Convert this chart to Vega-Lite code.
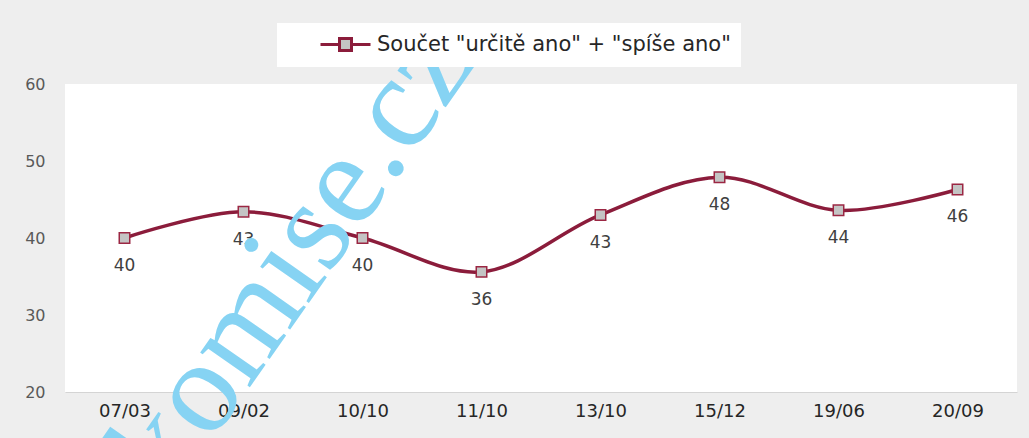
{
  "$schema": "https://vega.github.io/schema/vega-lite/v6.json",
  "width": 952,
  "height": 308,
  "autosize": {"type": "none"},
  "padding": {"left": 65, "top": 84, "right": 12, "bottom": 46},
  "background": "#eeeeee",
  "config": {"view": {"fill": "white", "stroke": null}},
  "data": {
    "values": [
      {"date": "07/03", "value": 40.0, "series": "Součet \"určitě ano\" + \"spíše ano\""},
      {"date": "09/02", "value": 43.4, "series": "Součet \"určitě ano\" + \"spíše ano\""},
      {"date": "10/10", "value": 40.0, "series": "Součet \"určitě ano\" + \"spíše ano\""},
      {"date": "11/10", "value": 35.6, "series": "Součet \"určitě ano\" + \"spíše ano\""},
      {"date": "13/10", "value": 43.0, "series": "Součet \"určitě ano\" + \"spíše ano\""},
      {"date": "15/12", "value": 47.9, "series": "Součet \"určitě ano\" + \"spíše ano\""},
      {"date": "19/06", "value": 43.6, "series": "Součet \"určitě ano\" + \"spíše ano\""},
      {"date": "20/09", "value": 46.3, "series": "Součet \"určitě ano\" + \"spíše ano\""}
    ]
  },
  "encoding": {
    "x": {
      "field": "date",
      "type": "ordinal",
      "sort": null,
      "scale": {"type": "point", "padding": 0.5},
      "axis": {
        "title": null,
        "labelAngle": 0,
        "ticks": false,
        "grid": false,
        "domainColor": "#d4d4d4",
        "domainWidth": 1,
        "labelPadding": 10,
        "labelFont": "DejaVu Sans",
        "labelFontSize": 18,
        "labelColor": "#262626"
      }
    },
    "y": {
      "field": "value",
      "type": "quantitative",
      "scale": {"domain": [20, 60], "nice": false, "zero": false},
      "axis": {
        "title": null,
        "values": [20, 30, 40, 50, 60],
        "ticks": false,
        "domain": false,
        "grid": false,
        "labelPadding": 20,
        "labelFont": "DejaVu Sans",
        "labelFontSize": 16,
        "labelColor": "#595959"
      }
    }
  },
  "layer": [
    {
      "mark": {"type": "line", "interpolate": "catmull-rom", "strokeWidth": 3.5},
      "encoding": {
        "color": {
          "field": "series",
          "type": "nominal",
          "scale": {"range": ["#8b1c3b"]},
          "legend": {
            "title": null,
            "orient": "none",
            "legendX": 212,
            "legendY": -61,
            "padding": 10,
            "fillColor": "white",
            "symbolType": "M2.2,0H4.1M5.3,0H7.2M4.1,-0.6H5.3V0.6H4.1Z",
            "symbolSize": 400,
            "symbolStrokeWidth": 3,
            "labelFont": "DejaVu Sans",
            "labelFontSize": 21,
            "labelColor": "#262626",
            "labelOffset": 67,
            "labelLimit": 700,
            "encode": {
              "symbols": {
                "update": {
                  "fill": {"value": "#c4c4c4"},
                  "stroke": {"value": "#8b1c3b"},
                  "strokeWidth": {"value": 3}
                }
              }
            }
          }
        }
      }
    },
    {
      "mark": {
        "type": "point",
        "shape": "square",
        "filled": true,
        "fill": "#c4c4c4",
        "stroke": "#9b2743",
        "strokeWidth": 1.5,
        "size": 110,
        "opacity": 1
      }
    },
    {
      "mark": {"type": "text", "dy": 28, "font": "DejaVu Sans", "fontSize": 17, "fill": "#404040"},
      "encoding": {"text": {"field": "value", "type": "quantitative", "format": ".0f"}}
    },
    {
      "data": {"values": [{"date": "09/02", "value": 28.5, "w": "komise.cz"}]},
      "mark": {
        "type": "text",
        "font": "Liberation Serif",
        "fontSize": 132,
        "angle": -55,
        "dx": 85,
        "align": "center",
        "baseline": "middle",
        "fill": "#86d3f3"
      },
      "encoding": {"text": {"field": "w", "type": "nominal"}}
    }
  ]
}
